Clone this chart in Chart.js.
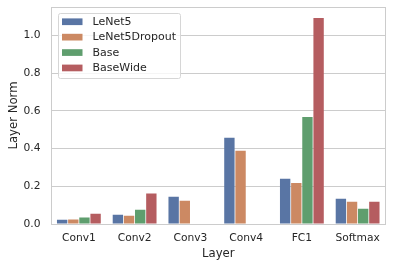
<!DOCTYPE html>
<html>
<head>
<meta charset="utf-8">
<script src="https://cdn.jsdelivr.net/npm/chart.js@4/dist/chart.umd.min.js"></script>
<style>
  html, body { margin: 0; padding: 0; background: #fff; }
  #wrap { width: 393px; height: 268px; }
</style>
</head>
<body>
<div id="wrap"><canvas id="grafico"></canvas></div>
<script>
// dados do grafico
const layers = ['Conv1', 'Conv2', 'Conv3', 'Conv4', 'FC1', 'Softmax'];
const seriesNames = ['LeNet5', 'LeNet5Dropout', 'Base', 'BaseWide'];
const lenet5 = [0.023, 0.049, 0.144, 0.457, 0.240, 0.134];
const lenet5Dropout = [0.024, 0.044, 0.123, 0.388, 0.218, 0.118];
const base = [0.035, 0.076, null, null, 0.567, 0.081];
const baseWide = [0.055, 0.162, null, null, 1.092, 0.118];
const yTicks = [0, 0.2, 0.4, 0.6, 0.8, 1.0];

const cores = ['#5975a4', '#cc8963', '#5f9e6e', '#b55d60'];
const texto = '#262626';
const fonte = 'DejaVu Sans';

const valores = [lenet5, lenet5Dropout, base, baseWide];

// moldura + legenda dentro da area do grafico
const molduraLegenda = {
    id: 'molduraLegenda',
    afterDatasetsDraw(chart) {
        const ctx = chart.ctx;
        const a = chart.chartArea;
        ctx.save();
        ctx.strokeStyle = '#cccccc';
        ctx.lineWidth = 1;
        ctx.strokeRect(Math.round(a.left) + 0.5, Math.round(a.top) + 0.5,
            Math.round(a.right - a.left) - 1, Math.round(a.bottom - a.top));

        // legenda
        const x0 = a.left + 6.5, y0 = a.top + 5.5;
        const w = 122, h = 65;
        ctx.fillStyle = 'rgba(255,255,255,0.8)';
        ctx.strokeStyle = '#d6d6d6';
        ctx.beginPath();
        ctx.roundRect(Math.round(x0) + 0.5, Math.round(y0) + 0.5, w, h, 2);
        ctx.fill();
        ctx.stroke();
        ctx.font = '11px "' + fonte + '"';
        ctx.textBaseline = 'middle';
        seriesNames.forEach((nome, i) => {
            const cy = y0 + 9.2 + i * 15.4;
            ctx.fillStyle = cores[i];
            ctx.fillRect(x0 + 4.5, cy - 3.3, 20.5, 6.7);
            ctx.fillStyle = texto;
            ctx.fillText(nome, x0 + 35, cy + 0.5);
        });
        ctx.restore();
    }
};

const ctx = document.getElementById('grafico').getContext('2d');
const grafico = new Chart(ctx, {
    type: 'bar',
    data: {
        labels: layers,
        datasets: seriesNames.map((nome, i) => ({
            label: nome,
            data: valores[i],
            backgroundColor: cores[i],
            borderWidth: 0,
            categoryPercentage: 0.8,
            barPercentage: 0.93
        }))
    },
    options: {
        responsive: true,
        maintainAspectRatio: false,
        animation: false,
        devicePixelRatio: 1,
        layout: { padding: { top: 7, right: 7.5, left: 0, bottom: 0 } },
        plugins: {
            legend: { display: false },
            tooltip: { enabled: false }
        },
        scales: {
            x: {
                grid: { display: false, drawTicks: false },
                border: { display: false },
                ticks: { color: texto, font: { family: fonte, size: 10.7 }, padding: 8 },
                title: {
                    display: true, text: 'Layer', color: texto,
                    font: { family: fonte, size: 11.7 }, padding: { top: 0, bottom: 7.5 }
                },
                afterFit(scale) {
                    scale.height = 44;
                    scale.paddingLeft = 0;
                    scale.paddingRight = 0;
                }
            },
            y: {
                min: 0,
                max: 1.151,
                afterBuildTicks(scale) { scale.ticks = yTicks.map(v => ({ value: v })); },
                grid: { color: '#cccccc', lineWidth: 1, drawTicks: false },
                border: { display: false },
                ticks: {
                    color: texto, font: { family: fonte, size: 10.7 }, padding: 10.5,
                    callback: v => v.toFixed(1)
                },
                title: {
                    display: true, text: 'Layer Norm', color: texto,
                    font: { family: fonte, size: 11.7 }, padding: { top: 7, bottom: 0 }
                },
                afterFit(scale) {
                    scale.width = 51;
                    scale.paddingTop = 0;
                    scale.paddingBottom = 0;
                }
            }
        }
    },
    plugins: [molduraLegenda]
});
</script>
</body>
</html>
